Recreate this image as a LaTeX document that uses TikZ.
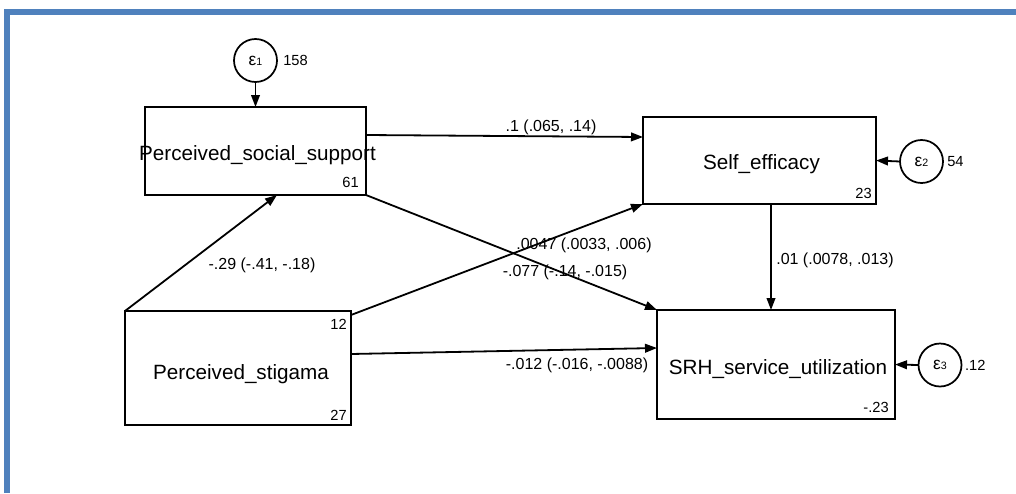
\documentclass[tikz,border=0pt]{standalone}
\usepackage{fontspec}
\setmainfont{Liberation Sans}
\usetikzlibrary{arrows.meta,calc}
\definecolor{frameblue}{RGB}{79,129,189}
\newcommand\errlabel[1]{{\fontsize{13}{14}\selectfont ε}{\fontsize{8}{9}\selectfont #1}}
\begin{document}
\begin{tikzpicture}[x=0.75pt,y=-0.75pt,
  box/.style={draw, line width=1.6pt, inner sep=0pt, outer sep=0pt},
  boxtext/.style={font=\fontsize{15.5}{18}\selectfont, inner sep=0pt, anchor=base},
  err/.style={draw, circle, line width=1.3pt, minimum size=32.25pt, inner sep=0pt, outer sep=0pt},
  num/.style={font=\fontsize{11}{12}\selectfont, inner sep=0pt},
  coef/.style={font=\fontsize{12}{14}\selectfont, inner sep=0pt},
  conn/.style={-{Triangle[length=9pt,width=6.5pt]}, line width=1.35pt},
]
\useasboundingbox (0,0) rectangle (1016,493);
% frame
\fill[frameblue] (4,9) rectangle (1016,15);
\fill[frameblue] (4,9) rectangle (10,493);

% boxes
\node[box, minimum width=165.75pt, minimum height=66pt] (pss) at (255.5,151) {};
\node[box, minimum width=174.75pt, minimum height=65.25pt] (se) at (759.5,160.5) {};
\node[box, minimum width=178.5pt, minimum height=81.75pt] (srh) at (776,364.5) {};
\node[box, minimum width=169.5pt, minimum height=85.5pt] (ps) at (238,368) {};

\node[boxtext] (psst) at (257.5,160) {Perceived\_social\_support};
\node[boxtext] (set) at (761.5,169) {Self\_efficacy};
\node[boxtext] (srht) at (778,374) {SRH\_service\_utilization};
\node[boxtext] (pst) at (241,379) {Perceived\_stigama};

% corner numbers
\node[num, anchor=south east] (n61) at ([shift={(-7,-7)}]pss.south east) {61};
\node[num, anchor=south east] (n23) at ([shift={(-4,-5)}]se.south east) {23};
\node[num, anchor=south east] (n023) at ([shift={(-6,-6)}]srh.south east) {-.23};
\node[num, anchor=south east] (n27) at ([shift={(-4,-4)}]ps.south east) {27};
\node[num, anchor=north east] (n12) at ([shift={(-4,8)}]ps.north east) {12};

% error terms
\node[err] (e1) at (255.5,60.5) {\errlabel{1}};
\node[err] (e2) at (921.5,161.5) {\errlabel{2}};
\node[err] (e3) at (940,365) {\errlabel{3}};
\node[num, anchor=west] (v1) at ([xshift=4.5pt]e1.east) {158};
\node[num, anchor=west] (v2) at ([xshift=3pt]e2.east) {54};
\node[num, anchor=west] (v3) at ([xshift=2.5pt]e3.east) {.12};

\draw[conn] (e1.south) -- (e1.south |- pss.north);
\draw[conn] (e2.west) -- (se.east);
\draw[conn] (e3.west) -- (srh.east);

% paths
\draw[conn] ([shift={(0,-16)}]pss.east) -- ([shift={(0,-23.5)}]se.west);
\draw[conn] (pss.south east) -- (srh.north west);
\draw[conn] (ps.north west) -- ([shift={(21.5,0)}]pss.south);
\draw[conn] ([shift={(0,4)}]ps.north east) -- (se.south west);
\draw[conn] ([shift={(0,-14)}]ps.east) -- ([shift={(0,-16.5)}]srh.west);
\draw[conn] ([shift={(11.5,0)}]se.south) coordinate (sev) -- (sev |- srh.north);

% coefficients
\node[coef] (c1) at (551,127) {.1 (.065, .14)};
\node[coef] (c2) at (262,265) {-.29 (-.41, -.18)};
\node[coef] (c3) at (584,245) {.0047 (.0033, .006)};
\node[coef] (c4) at (565,272) {-.077 (-.14, -.015)};
\node[coef] (c5) at (577,365) {-.012 (-.016, -.0088)};
\node[coef] (c6) at (835,260) {.01 (.0078, .013)};
\end{tikzpicture}
\end{document}
